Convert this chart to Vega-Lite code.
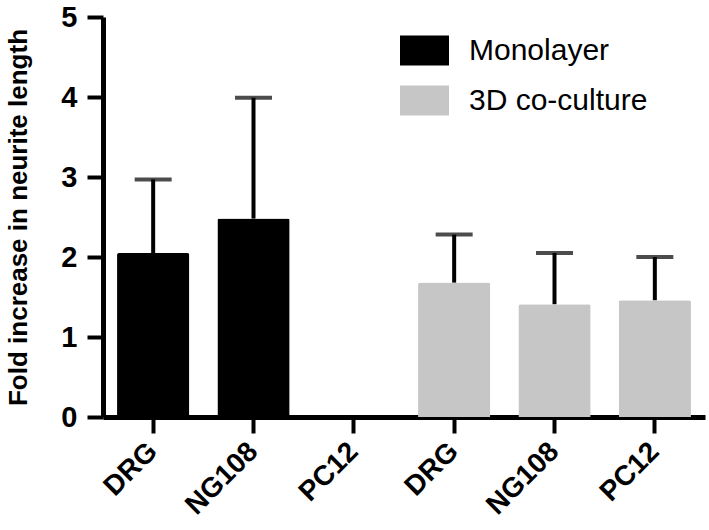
{
  "$schema": "https://vega.github.io/schema/vega-lite/v6.json",
  "width": 602,
  "height": 400,
  "padding": {"left": 5, "top": 3, "right": 5, "bottom": 5},
  "background": "white",
  "config": {
    "view": {"stroke": null}
  },
  "data": {
    "values": [
      {"key": "1 DRG", "group": "Monolayer", "mean": 2.05, "upper": 2.97},
      {"key": "2 NG108", "group": "Monolayer", "mean": 2.48, "upper": 3.99},
      {"key": "3 PC12", "group": "Monolayer", "mean": 0, "upper": null},
      {"key": "4 DRG", "group": "3D co-culture", "mean": 1.68, "upper": 2.28},
      {"key": "5 NG108", "group": "3D co-culture", "mean": 1.41, "upper": 2.05},
      {"key": "6 PC12", "group": "3D co-culture", "mean": 1.46, "upper": 2.0}
    ]
  },
  "encoding": {
    "x": {
      "field": "key",
      "type": "nominal",
      "scale": {
        "domain": ["1 DRG", "2 NG108", "3 PC12", "4 DRG", "5 NG108", "6 PC12"],
        "paddingInner": 0.28,
        "paddingOuter": 0.14
      },
      "axis": {
        "title": null,
        "domainColor": "black",
        "domainWidth": 5,
        "tickColor": "black",
        "tickWidth": 4,
        "tickSize": 16,
        "labelFont": "Liberation Sans",
        "labelFontWeight": "bold",
        "labelFontSize": 28,
        "labelColor": "black",
        "labelAngle": -45,
        "labelAlign": "right",
        "labelBaseline": "middle",
        "labelPadding": 14,
        "labelExpr": "split(datum.label, ' ')[1]"
      }
    }
  },
  "layer": [
    {
      "mark": {"type": "bar", "cornerRadiusEnd": 2},
      "encoding": {
        "y": {
          "field": "mean",
          "type": "quantitative",
          "scale": {"domain": [0, 5], "nice": false},
          "axis": {
            "title": "Fold increase in neurite length",
            "values": [0, 1, 2, 3, 4, 5],
            "format": "d",
            "grid": false,
            "domainColor": "black",
            "domainWidth": 5,
            "tickColor": "black",
            "tickWidth": 4,
            "tickSize": 16,
            "labelFont": "Liberation Sans",
            "labelFontWeight": "bold",
            "labelFontSize": 29,
            "labelColor": "black",
            "labelPadding": 10,
            "titleFont": "Liberation Sans",
            "titleFontWeight": "bold",
            "titleFontSize": 26,
            "titleColor": "black",
            "titlePadding": 29
          }
        },
        "fill": {
          "field": "group",
          "type": "nominal",
          "scale": {"domain": ["Monolayer", "3D co-culture"], "range": ["#000000", "#c6c6c6"]},
          "legend": {
            "title": null,
            "orient": "none",
            "legendX": 297,
            "legendY": 9,
            "padding": 0,
            "symbolType": "M-1,-0.612H1V0.612H-1Z",
            "symbolSize": 2401,
            "symbolStrokeWidth": 0,
            "labelFont": "Liberation Sans",
            "labelFontSize": 30,
            "labelColor": "black",
            "labelOffset": 20,
            "labelLimit": 400,
            "rowPadding": 10
          }
        }
      }
    },
    {
      "transform": [{"filter": "datum.upper != null"}],
      "mark": {"type": "rule", "color": "black", "strokeWidth": 4},
      "encoding": {
        "y": {"field": "mean", "type": "quantitative"},
        "y2": {"field": "upper"}
      }
    },
    {
      "transform": [{"filter": "datum.upper != null"}],
      "mark": {"type": "tick", "color": "black", "thickness": 4, "size": 37},
      "encoding": {
        "y": {"field": "upper", "type": "quantitative"}
      }
    }
  ]
}
